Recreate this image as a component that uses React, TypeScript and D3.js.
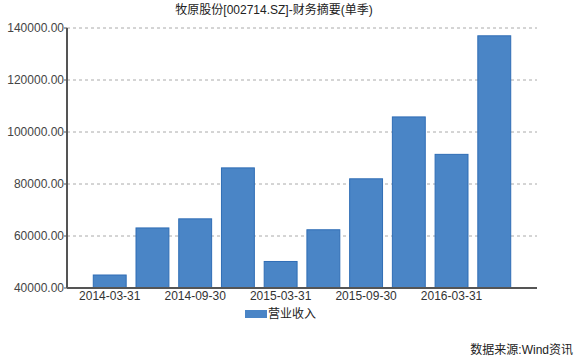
import React from "react";
import * as d3 from "d3";

const categories = [
  "2014-03-31", "2014-06-30", "2014-09-30", "2014-12-31", "2015-03-31",
  "2015-06-30", "2015-09-30", "2015-12-31", "2016-03-31", "2016-06-30",
];
const revenue = [45000, 63100, 66600, 86200, 50200, 62400, 82000, 105800, 91400, 137000];
const yTicks = [40000, 60000, 80000, 100000, 120000, 140000];
const xTickLabels = ["2014-03-31", "2014-09-30", "2015-03-31", "2015-09-30", "2016-03-31"];
const title = "牧原股份[002714.SZ]-财务摘要(单季)";
const seriesName = "营业收入";
const source = "数据来源:Wind资讯";

const W = 580, H = 358;
const left = 67, right = 537, top = 28, bottom = 288;
const font = "'Liberation Sans', 'Noto Sans CJK SC', sans-serif";

export default function App() {
  const x = d3.scalePoint<string>().domain(categories).range([left, right]).padding(1);
  const y = d3.scaleLinear().domain([40000, 140000]).range([bottom, top]);
  const bw = x.step() * 0.77;
  return (
    <svg width={W} height={H} style={{ position: "absolute", left: 0, top: 0, background: "#fff" }} fontFamily={font}>
      <text x={274} y={14} textAnchor="middle" fontSize={12} fill="#222">{title}</text>
      {yTicks.map((t) => (
        <g key={t}>
          {t !== 40000 && (
            <line x1={left} x2={right} y1={y(t)} y2={y(t)} stroke="#aaa" strokeDasharray="3,3" />
          )}
          <line x1={left - 3} x2={left} y1={y(t)} y2={y(t)} stroke="#555" />
          <text x={64} y={y(t) + 4} textAnchor="end" fontSize={12} fill="#444">{t.toFixed(2)}</text>
        </g>
      ))}
      {categories.map((c, i) => (
        <rect key={c} x={(x(c) as number) - bw / 2} y={y(revenue[i])} width={bw} height={bottom - y(revenue[i])}
          fill="#4a85c6" stroke="#2f6db5" strokeWidth={1} />
      ))}
      <line x1={left} x2={left} y1={top} y2={bottom} stroke="#555" strokeWidth={2} />
      <line x1={left} x2={right} y1={bottom} y2={bottom} stroke="#555" strokeWidth={2} />
      {xTickLabels.map((l) => (
        <text key={l} x={x(l) as number} y={300} textAnchor="middle" fontSize={12} fill="#333">{l}</text>
      ))}
      <rect x={245} y={310} width={22} height={8} fill="#4a85c6" />
      <text x={268} y={318} fontSize={12} fill="#222">{seriesName}</text>
      <text x={573} y={354} textAnchor="end" fontSize={12} fill="#222">{source}</text>
    </svg>
  );
}
